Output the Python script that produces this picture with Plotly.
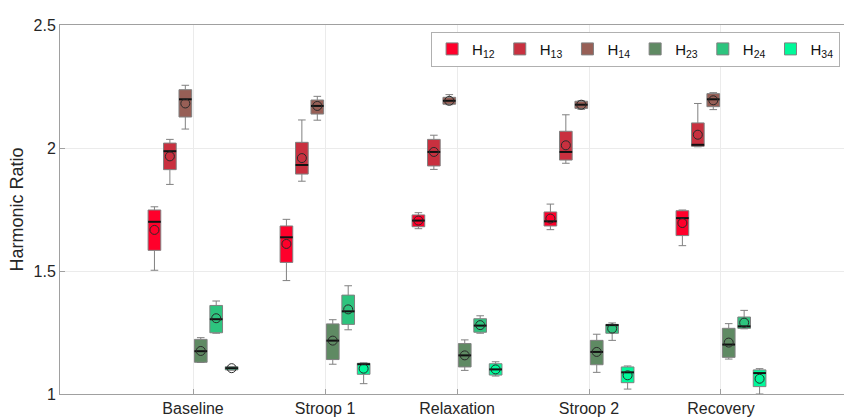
import plotly.graph_objects as go

# Conditions along the x axis
categories = ["Baseline", "Stroop 1", "Relaxation", "Stroop 2", "Recovery"]

# Harmonic ratio summary statistics per pair (one value per condition)
h12_lower = [1.503, 1.461, 1.672, 1.668, 1.603]
h12_q1 = [1.584, 1.535, 1.680, 1.683, 1.644]
h12_median = [1.700, 1.637, 1.705, 1.702, 1.715]
h12_q3 = [1.748, 1.683, 1.728, 1.740, 1.745]
h12_upper = [1.761, 1.710, 1.737, 1.772, 1.748]
h12_mean = [1.667, 1.610, 1.705, 1.713, 1.695]

h13_lower = [1.852, 1.865, 1.913, 1.938, 2.005]
h13_q1 = [1.912, 1.894, 1.927, 1.951, 2.007]
h13_median = [1.987, 1.931, 1.984, 1.984, 2.013]
h13_q3 = [2.020, 2.023, 2.035, 2.068, 2.102]
h13_upper = [2.035, 2.114, 2.052, 2.135, 2.181]
h13_mean = [1.966, 1.959, 1.984, 2.011, 2.054]

h14_lower = [2.077, 2.113, 2.176, 2.157, 2.156]
h14_q1 = [2.126, 2.138, 2.178, 2.161, 2.168]
h14_median = [2.198, 2.171, 2.192, 2.176, 2.198]
h14_q3 = [2.237, 2.195, 2.206, 2.190, 2.221]
h14_upper = [2.255, 2.210, 2.217, 2.192, 2.225]
h14_mean = [2.181, 2.171, 2.192, 2.176, 2.194]

h23_lower = [1.128, 1.121, 1.096, 1.088, 1.142]
h23_q1 = [1.129, 1.140, 1.110, 1.119, 1.149]
h23_median = [1.174, 1.217, 1.157, 1.171, 1.201]
h23_q3 = [1.222, 1.285, 1.205, 1.218, 1.267]
h23_upper = [1.229, 1.302, 1.220, 1.243, 1.286]
h23_mean = [1.175, 1.217, 1.157, 1.171, 1.209]

h24_lower = [1.247, 1.261, 1.247, 1.218, 1.265]
h24_q1 = [1.249, 1.283, 1.251, 1.247, 1.267]
h24_median = [1.304, 1.336, 1.278, 1.280, 1.275]
h24_q3 = [1.360, 1.402, 1.306, 1.283, 1.313]
h24_upper = [1.378, 1.440, 1.318, 1.289, 1.340]
h24_mean = [1.308, 1.344, 1.280, 1.266, 1.290]

h34_lower = [1.097, 1.042, 1.073, 1.020, 1.000]
h34_q1 = [1.098, 1.080, 1.077, 1.046, 1.030]
h34_median = [1.105, 1.121, 1.100, 1.088, 1.085]
h34_q3 = [1.111, 1.125, 1.123, 1.110, 1.098]
h34_upper = [1.112, 1.127, 1.131, 1.114, 1.103]
h34_mean = [1.105, 1.103, 1.100, 1.076, 1.062]

series = [
    ("H<sub>12</sub>", "#FF002B", h12_lower, h12_q1, h12_median, h12_q3, h12_upper, h12_mean),
    ("H<sub>13</sub>", "#C9303F", h13_lower, h13_q1, h13_median, h13_q3, h13_upper, h13_mean),
    ("H<sub>14</sub>", "#975F56", h14_lower, h14_q1, h14_median, h14_q3, h14_upper, h14_mean),
    ("H<sub>23</sub>", "#5F8A63", h23_lower, h23_q1, h23_median, h23_q3, h23_upper, h23_mean),
    ("H<sub>24</sub>", "#2DC47E", h24_lower, h24_q1, h24_median, h24_q3, h24_upper, h24_mean),
    ("H<sub>34</sub>", "#00F99A", h34_lower, h34_q1, h34_median, h34_q3, h34_upper, h34_mean),
]

step = 0.117      # spacing between boxes inside a group (x units)
box_w = 0.096     # box width (x units)
base = list(range(1, len(categories) + 1))

fig = go.Figure()
n = len(series)
for k, (name, color, lo, q1, med, q3, up, mean) in enumerate(series):
    off = (k - (n - 1) / 2) * step
    xs = [b + off for b in base]
    fig.add_trace(go.Box(
        x=xs, q1=q1, median=med, q3=q3, lowerfence=lo, upperfence=up,
        name=name, width=box_w, whiskerwidth=0.6,
        fillcolor=color, line=dict(color="#808080", width=1),
        boxpoints=False, hoverinfo="skip",
    ))
    # thick black median bars
    mx, my = [], []
    for x, m in zip(xs, med):
        mx += [x - box_w / 2, x + box_w / 2, None]
        my += [m, m, None]
    fig.add_trace(go.Scatter(x=mx, y=my, mode="lines",
                             line=dict(color="#111111", width=2),
                             showlegend=False, hoverinfo="skip"))
    # mean markers
    fig.add_trace(go.Scatter(x=xs, y=mean, mode="markers",
                             marker=dict(symbol="circle-open", size=9,
                                         color="#2a2a2a", line=dict(width=1)),
                             showlegend=False, hoverinfo="skip"))

family = "Liberation Sans, Arial, sans-serif"
axis_font = dict(family=family, size=16, color="#262626")

fig.update_layout(
    width=844, height=418,
    margin=dict(l=60, r=0, t=25, b=24),
    paper_bgcolor="white", plot_bgcolor="white",
    boxmode="overlay",
    font=axis_font,
    showlegend=True,
    legend=dict(orientation="h", x=0.995, xanchor="right", y=0.982, yanchor="top",
                bgcolor="white", bordercolor="#b0b0b0", borderwidth=1,
                font=dict(family=family, size=15, color="#111111"),
                itemwidth=30, tracegroupgap=0, valign="middle"),
    xaxis=dict(
        range=[-0.008, 5.932],
        tickvals=base, ticktext=categories,
        showgrid=True, gridcolor="#ebebeb", gridwidth=1,
        zeroline=False,
        showline=True, linecolor="#a0a0a0", linewidth=1, mirror=True,
        ticks="inside", ticklen=5, tickcolor="#a0a0a0",
        tickfont=axis_font,
    ),
    yaxis=dict(
        range=[1, 2.5],
        tickvals=[1, 1.5, 2, 2.5], ticktext=["1", "1.5", "2", "2.5"],
        showgrid=True, gridcolor="#ebebeb", gridwidth=1,
        zeroline=False,
        showline=True, linecolor="#a0a0a0", linewidth=1,
        ticks="inside", ticklen=5, tickcolor="#a0a0a0",
        tickfont=axis_font,
        title=dict(text="Harmonic Ratio", font=dict(family=family, size=18, color="#262626"),
                   standoff=5),
    ),
)

fig.write_html("out.html")
